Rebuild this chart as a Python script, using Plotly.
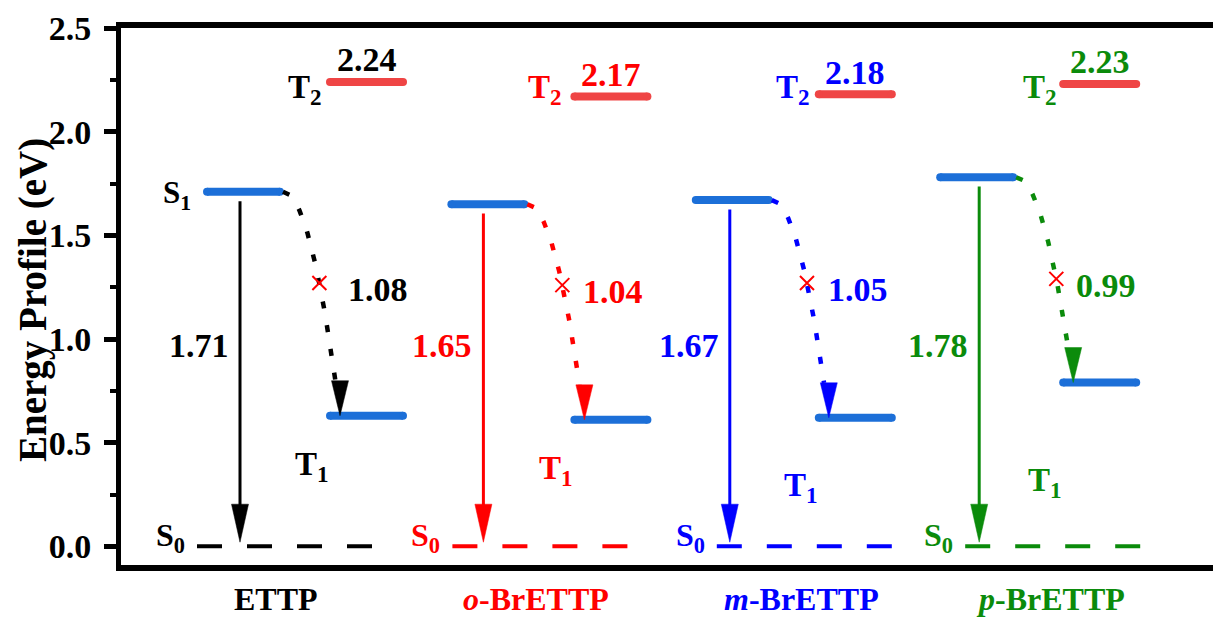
import plotly.graph_objects as go
import math

# ---------------- data ----------------
molecules = ["ETTP", "o-BrETTP", "m-BrETTP", "p-BrETTP"]
mol_labels = ["ETTP", "<i>o</i>-BrETTP", "<i>m</i>-BrETTP", "<i>p</i>-BrETTP"]
mol_colors = ["#000000", "#ff0000", "#0000ff", "#0b8b0b"]
S0 = [0.00, 0.00, 0.00, 0.00]
S1 = [1.71, 1.65, 1.67, 1.78]
T1 = [0.63, 0.61, 0.62, 0.79]
T2 = [2.24, 2.17, 2.18, 2.23]
gap_S1_T1 = [1.08, 1.04, 1.05, 0.99]
y_tick_vals = [0.0, 0.5, 1.0, 1.5, 2.0, 2.5]
y_tick_text = ["0.0", "0.5", "1.0", "1.5", "2.0", "2.5"]

# ---------------- layout constants (positions / styles) ----------------
W, H = 1213, 618
M_L, M_R, M_T, M_B = 121, 0, 28, 53
Y_MIN, Y_MAX = -0.09, 2.5
PLOT_H = H - M_T - M_B
YU = (Y_MAX - Y_MIN) / PLOT_H          # y units per pixel
X_MIN = -(207 - M_L)                   # x units are pixels, 0 = first S1 level start
X_MAX = X_MIN + (W - M_L - M_R)
GROUP_STEP = 244.4

LEVEL_BLUE = "#1c6fd8"
LEVEL_RED = "#ef4545"
FONT = "Liberation Serif"

s1_x = (0, 73)
t_x = (123, 196)
s0_start = [-10, 1, 21, 25]
s0_len = 175
emit_dx = [33, 32, 34, 39]
curve_start_dx = 76
curve_end_dx = 133
cross_y = [1.27, 1.26, 1.27, 1.29]
gap_label_dx = [27, 19, 19, 18]
t1_label_y = [0.40, 0.38, 0.30, 0.32]
t2_label_dx = [-6, -10, -7, -4]
cat_dx = [69, 85, 106, 110]

fig = go.Figure()


def gx(i):
    return i * GROUP_STEP


def add_level(x0, x1, y, color):
    fig.add_trace(go.Scatter(
        x=[x0, x1], y=[y, y], mode="lines+markers",
        line=dict(color=color, width=8),
        marker=dict(color=color, size=8, line=dict(width=0)),
        hoverinfo="skip", showlegend=False))


def add_head(xt, yt, color, length_px, half_w_px):
    hl = length_px * YU
    fig.add_trace(go.Scatter(
        x=[xt - half_w_px, xt + half_w_px, xt, xt - half_w_px],
        y=[yt + hl, yt + hl, yt, yt + hl],
        mode="lines", fill="toself", fillcolor=color,
        line=dict(color=color, width=0.5),
        hoverinfo="skip", showlegend=False))


def txt(x, y, text, color, size=34, xanchor="center", yanchor="middle",
        xshift=0, yshift=0, xref="x", yref="y"):
    fig.add_annotation(x=x, y=y, xref=xref, yref=yref, text="<b>" + text + "</b>",
                       showarrow=False, xanchor=xanchor, yanchor=yanchor,
                       xshift=xshift, yshift=yshift,
                       font=dict(family=FONT, size=size, color=color))


for i in range(len(molecules)):
    c = mol_colors[i]
    o = gx(i)
    # S0 dashed level
    xs0 = o + s0_start[i]
    fig.add_trace(go.Scatter(
        x=[xs0, xs0 + s0_len], y=[S0[i], S0[i]], mode="lines",
        line=dict(color=c, width=4, dash="25px,25px"),
        hoverinfo="skip", showlegend=False))
    # levels
    add_level(o + s1_x[0], o + s1_x[1], S1[i], LEVEL_BLUE)
    add_level(o + t_x[0], o + t_x[1], T1[i], LEVEL_BLUE)
    add_level(o + t_x[0], o + t_x[1], T2[i], LEVEL_RED)

    # S1 -> S0 emission arrow
    xe = o + emit_dx[i]
    head_len = 38
    tip_y = S0[i] + 0.02
    fig.add_trace(go.Scatter(
        x=[xe, xe], y=[S1[i] - 0.045, tip_y + head_len * YU * 0.8], mode="lines",
        line=dict(color=c, width=3), hoverinfo="skip", showlegend=False))
    add_head(xe, tip_y, c, head_len, 8.5)

    # curved dotted S1 -> T1 arrow (parabolic path)
    xa, xb = o + curve_start_dx, o + curve_end_dx
    ya, yb = S1[i], T1[i]
    ch_len = 35
    y_stop = yb + ch_len * YU
    n = 60
    cx, cy = [], []
    for k in range(n + 1):
        y = ya - (ya - y_stop) * k / n
        f = (ya - y) / (ya - yb)
        cx.append(xa + (xb - xa) * math.sqrt(f))
        cy.append(y)
    fig.add_trace(go.Scatter(
        x=cx, y=cy, mode="lines",
        line=dict(color=c, width=4.5, dash="7px,17px"),
        hoverinfo="skip", showlegend=False))
    add_head(xb, yb, c, ch_len, 8.5)

    # red cross on the curve
    fcr = (ya - cross_y[i]) / (ya - yb)
    xcr = xa + (xb - xa) * math.sqrt(fcr)
    fig.add_trace(go.Scatter(
        x=[xcr], y=[cross_y[i]], mode="markers",
        marker=dict(symbol="x-thin", size=14, line=dict(color="#ff0000", width=2)),
        hoverinfo="skip", showlegend=False))

    # texts
    txt(xcr, cross_y[i] - 0.03, f"{gap_S1_T1[i]:.2f}", c, xanchor="left",
        xshift=gap_label_dx[i])
    txt(xe, 0.97, f"{S1[i]:.2f}", c, xanchor="right", xshift=-9)
    txt(o + t_x[0], 2.21, "T<sub>2</sub>", c, size=33, xanchor="right",
        xshift=t2_label_dx[i], yshift=-1)
    txt(o + (t_x[0] + t_x[1]) / 2, T2[i], f"{T2[i]:.2f}", c, yshift=22)
    txt(o + 86, t1_label_y[i], "T<sub>1</sub>", c, size=33, xanchor="left", yshift=-3)
    txt(xs0, S0[i], "S<sub>0</sub>", c, size=32, xanchor="right", xshift=-10, yshift=9)
    if i == 0:
        txt(o + s1_x[0], S1[i], "S<sub>1</sub>", c, size=31, xanchor="right",
            xshift=-14, yshift=-3)
    # category label
    fig.add_annotation(x=o + cat_dx[i], y=0, xref="x", yref="paper",
                       text="<b>" + mol_labels[i] + "</b>", showarrow=False,
                       xanchor="center", yanchor="middle", yshift=-34,
                       font=dict(family=FONT, size=32, color=c))

# y-axis title
fig.add_annotation(x=(33 - M_L) / (W - M_L - M_R), y=(H - M_B - 300) / PLOT_H,
                   xref="paper", yref="paper",
                   text="<b>Energy Profile (eV)</b>", textangle=-90, showarrow=False,
                   xanchor="center", yanchor="middle",
                   font=dict(family=FONT, size=39, color="#000000"))

fig.update_layout(
    width=W, height=H,
    margin=dict(l=M_L, r=M_R, t=M_T, b=M_B, pad=0),
    paper_bgcolor="white", plot_bgcolor="white",
    showlegend=False,
    font=dict(family=FONT),
    xaxis=dict(range=[X_MIN, X_MAX], showgrid=False, zeroline=False,
               showticklabels=False, ticks="", showline=True, linecolor="black",
               linewidth=6, mirror=True, fixedrange=True),
    yaxis=dict(range=[Y_MIN, Y_MAX], showgrid=False, zeroline=False,
               showline=True, linecolor="black", linewidth=5, mirror=False,
               tickmode="array", tickvals=y_tick_vals,
               ticktext=["<b>" + t + "</b>" for t in y_tick_text],
               ticks="outside", ticklen=12, tickwidth=5, tickcolor="black",
               ticklabelstandoff=6,
               minor=dict(ticks="outside", ticklen=6, tickwidth=4, tickcolor="black",
                          tickmode="array", tickvals=[0.25, 0.75, 1.25, 1.75, 2.25]),
               tickfont=dict(family=FONT, size=34, color="black"),
               fixedrange=True),
)

fig.write_html("out.html")
